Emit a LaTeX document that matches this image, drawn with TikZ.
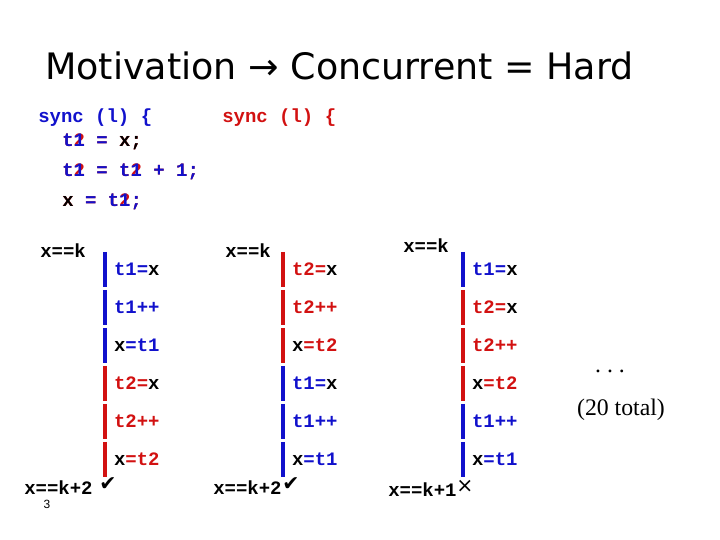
\documentclass[tikz,border=0pt]{standalone}
\usepackage{fontspec}
\usepackage{tikz}
\usepackage{xcolor}
\setmainfont{Liberation Serif}
\newfontfamily\titlefont{DejaVu Sans}
\newfontfamily\codefont{Liberation Mono}
\newfontfamily\slidefont{Liberation Sans}
\newfontfamily\symfont{DejaVu Sans}
\definecolor{tBlue}{RGB}{17,17,204}
\definecolor{tRed}{RGB}{210,17,17}
\newcommand{\bl}[1]{\textcolor{tBlue}{#1}}
\newcommand{\rd}[1]{\textcolor{tRed}{#1}}
\tikzset{
	code/.style    ={anchor=base west, inner sep=0pt, font=\codefont\bfseries\fontsize{13.5pt}{16pt}\selectfont},
	optext/.style  ={anchor=west, inner sep=0pt, font=\codefont\bfseries\fontsize{13.5pt}{16pt}\selectfont},
	xstate/.style  ={anchor=west, inner sep=0pt, font=\codefont\bfseries\fontsize{13.5pt}{16pt}\selectfont},
	verdict/.style ={inner sep=0pt, font=\symfont\fontsize{14.5pt}{16pt}\selectfont},
	opbar/.style   ={line width=2.4pt},
}
% one step of a trace: name, bar x, row, colour, text
\newcommand{\opstep}[5]{%
	\draw[opbar, #4] (#2,{7.2-0.95*#3}) -- (#2,{6.325-0.95*#3});
	\node[optext] (#1) at ({#2+0.22},{6.7625-0.95*#3}) {#5};}

\begin{document}
\begin{tikzpicture}
	\useasboundingbox (0,0) rectangle (18,13.5);
	% title
	\node[anchor=base west, inner sep=0pt, font=\titlefont\fontsize{25.9pt}{30pt}\selectfont] (title) at (1.125,11.5) {Motivation → Concurrent = Hard};
	% thread 2 code (underneath)
	\node[code, tRed] (rsync) at (5.55,10.425) {sync (l) \{};
	\node[code, tRed] (rl1) at (1.55,9.825) {t2 = x;};
	\node[code, tRed] (rl2) at (1.55,9.075) {t2 = t2 + 1;};
	\node[code, tRed] (rl3) at (1.55,8.325) {x = t2;};
	% thread 1 code
	\node[code, tBlue] (bsync) at (0.95,10.425) {sync (l) \{};
	\node[code] (bl1) at (1.55,9.825) {\bl{t1 =} x;};
	\node[code, tBlue] (bl2) at (1.55,9.075) {t1 = t1 + 1;};
	\node[code] (bl3) at (1.55,8.325) {x \bl{= t1;}};
	% trace 1
	\node[xstate] (k1) at (1.0,7.225) {x==k};
	\opstep{a1}{2.625}{0}{tBlue}{\bl{t1=}x}
	\opstep{a2}{2.625}{1}{tBlue}{\bl{t1++}}
	\opstep{a3}{2.625}{2}{tBlue}{x\bl{=t1}}
	\opstep{a4}{2.625}{3}{tRed}{\rd{t2=}x}
	\opstep{a5}{2.625}{4}{tRed}{\rd{t2++}}
	\opstep{a6}{2.625}{5}{tRed}{x\rd{=t2}}
	\node[xstate] (e1) at (0.6,1.3) {x==k+2};
	\node[verdict] (v1) at (2.7,1.4) {✔};
	% trace 2
	\node[xstate] (k2) at (5.625,7.225) {x==k};
	\opstep{b1}{7.075}{0}{tRed}{\rd{t2=}x}
	\opstep{b2}{7.075}{1}{tRed}{\rd{t2++}}
	\opstep{b3}{7.075}{2}{tRed}{x\rd{=t2}}
	\opstep{b4}{7.075}{3}{tBlue}{\bl{t1=}x}
	\opstep{b5}{7.075}{4}{tBlue}{\bl{t1++}}
	\opstep{b6}{7.075}{5}{tBlue}{x\bl{=t1}}
	\node[xstate] (e2) at (5.325,1.3) {x==k+2};
	\node[verdict] (v2) at (7.27,1.4) {✔};
	% trace 3
	\node[xstate] (k3) at (10.075,7.35) {x==k};
	\opstep{c1}{11.575}{0}{tBlue}{\bl{t1=}x}
	\opstep{c2}{11.575}{1}{tRed}{\rd{t2=}x}
	\opstep{c3}{11.575}{2}{tRed}{\rd{t2++}}
	\opstep{c4}{11.575}{3}{tRed}{x\rd{=t2}}
	\opstep{c5}{11.575}{4}{tBlue}{\bl{t1++}}
	\opstep{c6}{11.575}{5}{tBlue}{x\bl{=t1}}
	\node[xstate] (e3) at (9.7,1.25) {x==k+1};
	\node[verdict] (v3) at (11.625,1.35) {×};
	% the rest
	\node[anchor=base, font=\fontsize{16.9pt}{20pt}\selectfont] (dots) at (15.25,4.2) {.\ .\ .};
	\node[font=\fontsize{16.9pt}{20pt}\selectfont] (total) at (15.525,3.25) {(20 total)};
	\node[font=\slidefont\fontsize{8.5pt}{10pt}\selectfont] (pg) at (1.175,0.9) {3};
\end{tikzpicture}
\end{document}
